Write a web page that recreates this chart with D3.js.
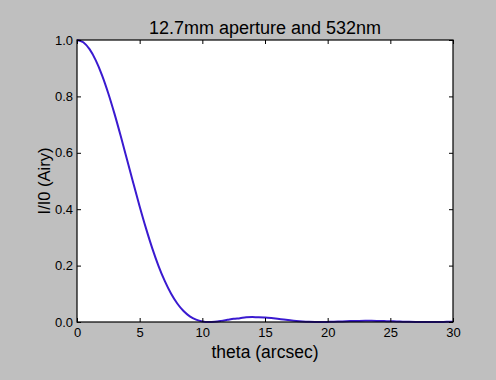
<!DOCTYPE html>
<html>
<head>
<meta charset="utf-8">
<script src="https://cdn.jsdelivr.net/npm/d3@7"></script>
<style>
	body { margin: 0; background: #bfbfbf; }
	svg { display: block; font-family: "Liberation Sans", Arial, sans-serif; }
</style>
</head>
<body>
<div id="chart"></div>
<script>
var theta = [0, 0.5, 1, 1.5, 2, 2.5, 3, 3.5, 4, 4.5, 5, 5.5, 6, 6.5, 7, 7.5, 8, 8.5, 9, 9.5,
		10, 10.5, 11, 11.5, 12, 12.5, 13, 13.5, 14, 14.5, 15, 15.5, 16, 16.5, 17, 17.5, 18, 18.5, 19, 19.5,
		20, 20.5, 21, 21.5, 22, 22.5, 23, 23.5, 24, 24.5, 25, 25.5, 26, 26.5, 27, 27.5, 28, 28.5, 29, 29.5, 30];
var intensity = [1, 0.9918, 0.9674, 0.9279, 0.8749, 0.8105, 0.7371, 0.6575, 0.5746, 0.4911,
		0.4098, 0.3329, 0.2622, 0.1994, 0.1456, 0.1010, 0.0656, 0.0389, 0.0202, 0.0083,
		0.0020, 0.0000, 0.0011, 0.0040, 0.0076, 0.0112, 0.0135, 0.0165, 0.0173, 0.0172,
		0.0159, 0.0138, 0.0113, 0.0085, 0.0059, 0.0036, 0.0019, 0.0007, 0.0001, 0.0000,
		0.0004, 0.0011, 0.0019, 0.0027, 0.0034, 0.0039, 0.0041, 0.0041, 0.0038, 0.0033,
		0.0026, 0.0020, 0.0013, 0.0007, 0.0003, 0.0001, 0.0000, 0.0001, 0.0003, 0.0005, 0.0009];
var xTicks = [0, 5, 10, 15, 20, 25, 30];
var yTicks = [0, 0.2, 0.4, 0.6, 0.8, 1.0];

var title = "12.7mm aperture and 532nm",
		xLabel = "theta (arcsec)",
		yLabel = "I/I0 (Airy)";

var W = 496, H = 380;
var margin = {top: 40, right: 43, bottom: 58, left: 77};
var width = W - margin.left - margin.right,
		height = H - margin.top - margin.bottom;

var svg = d3.select("#chart").append("svg")
		.attr("width", W)
		.attr("height", H);

svg.append("rect")
		.attr("width", W)
		.attr("height", H)
		.attr("fill", "#bfbfbf");

var x = d3.scaleLinear().domain([0, 30]).range([0, width]),
		y = d3.scaleLinear().domain([0, 1]).range([height, 0]);

var g = svg.append("g")
		.attr("transform", "translate(" + margin.left + "," + margin.top + ")");

g.append("rect")
		.attr("width", width)
		.attr("height", height)
		.attr("fill", "#fff");

var data = theta.map(function(t, i) { return {t: t, v: intensity[i]}; });

var line = d3.line()
		.curve(d3.curveMonotoneX)
		.x(function(d) { return x(d.t); })
		.y(function(d) { return y(d.v); });

g.append("path")
		.datum(data)
		.attr("fill", "none")
		.attr("stroke", "#3a1ad0")
		.attr("stroke-width", 2)
		.attr("d", line);

function styleAxis(sel) {
	sel.select(".domain").remove();
	sel.selectAll(".tick line").attr("stroke", "#000");
	sel.selectAll(".tick text").attr("fill", "#000").attr("font-size", 13);
}

var fmt = d3.format(".1f");

g.append("g")
		.attr("transform", "translate(0," + height + ")")
		.call(d3.axisBottom(x).tickValues(xTicks).tickSize(-4).tickPadding(6).tickFormat(d3.format("d")))
		.call(styleAxis);
g.append("g")
		.call(d3.axisTop(x).tickValues(xTicks).tickSize(-4).tickFormat(""))
		.call(styleAxis);
g.append("g")
		.call(d3.axisLeft(y).tickValues(yTicks).tickSize(-4).tickPadding(4).tickFormat(fmt))
		.call(styleAxis);
g.append("g")
		.attr("transform", "translate(" + width + ",0)")
		.call(d3.axisRight(y).tickValues(yTicks).tickSize(-4).tickFormat(""))
		.call(styleAxis);

g.append("rect")
		.attr("width", width)
		.attr("height", height)
		.attr("fill", "none")
		.attr("stroke", "#000")
		.attr("stroke-width", 1.2);

svg.append("text")
		.attr("x", margin.left + width / 2)
		.attr("y", 34)
		.attr("text-anchor", "middle")
		.attr("font-size", 18)
		.text(title);

svg.append("text")
		.attr("x", margin.left + width / 2)
		.attr("y", 358)
		.attr("text-anchor", "middle")
		.attr("font-size", 17.5)
		.text(xLabel);

svg.append("text")
		.attr("transform", "translate(50," + (margin.top + height / 2) + ") rotate(-90)")
		.attr("text-anchor", "middle")
		.attr("font-size", 16.5)
		.text(yLabel);
</script>
</body>
</html>
